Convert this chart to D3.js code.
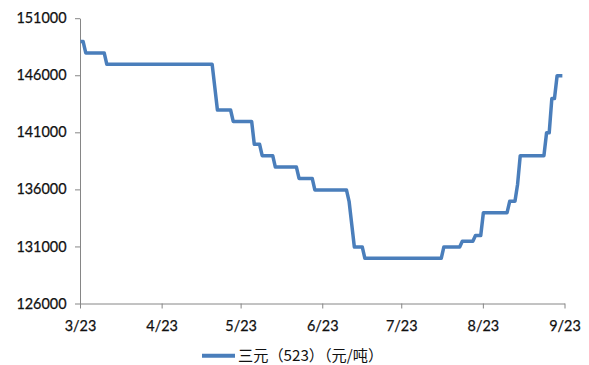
<!DOCTYPE html>
<html>
<head>
<meta charset="utf-8">
<script src="https://cdn.jsdelivr.net/npm/d3@7"></script>
<style>
  html, body { margin: 0; padding: 0; background: #ffffff; }
  svg { display: block; }
</style>
</head>
<body>
<svg id="chart" width="589" height="365"></svg>
<script>
// Price of NCM 523 ternary material, yuan per tonne (daily quotes at each price change)
const dates = [
  "03-23", "03-24", "03-25", "04-01", "04-02", "05-12", "05-13", "05-14",
  "05-19", "05-20", "05-27", "05-28", "05-30", "05-31", "06-04", "06-05",
  "06-13", "06-14", "06-19", "06-20", "07-02", "07-03", "07-04", "07-05",
  "07-08", "07-09", "08-07", "08-08", "08-14", "08-15", "08-19", "08-20",
  "08-22", "08-23", "09-01", "09-02", "09-04", "09-05", "09-06", "09-15",
  "09-16", "09-17", "09-18", "09-19", "09-20", "09-22"
];
const prices = [
  149000, 149000, 148000, 148000, 147000, 147000, 145000, 143000,
  143000, 142000, 142000, 140000, 140000, 139000, 139000, 138000,
  138000, 137000, 137000, 136000, 136000, 135000, 133000, 131000,
  131000, 130000, 130000, 131000, 131000, 131500, 131500, 132000,
  132000, 134000, 134000, 135000, 135000, 136500, 139000, 139000,
  141000, 141000, 144000, 144000, 146000, 146000
];
const seriesName = "三元（523）（元/吨）";
const yTicks = [126000, 131000, 136000, 141000, 146000, 151000];
const xTickDates = ["03-23", "04-23", "05-23", "06-23", "07-23", "08-23", "09-23"];
const xTickLabels = ["3/23", "4/23", "5/23", "6/23", "7/23", "8/23", "9/23"];

const year = 2021;
const parse = s => new Date(year, +s.slice(0, 2) - 1, +s.slice(3, 5));
const data = dates.map((d, i) => ({ date: parse(d), value: prices[i] }));

const svg = d3.select("#chart");
const axisColor = "#868686";
const textColor = "#111111";
const lineColor = "#4a7ebb";
const tickFont = "Lato, 'Liberation Sans', sans-serif";

const x = d3.scaleTime()
  .domain([parse(xTickDates[0]), parse(xTickDates[xTickDates.length - 1])])
  .range([80, 564.5]);
const y = d3.scaleLinear()
  .domain([126000, 151000])
  .range([303.5, 18.2]);

// y axis
const yAxis = svg.append("g")
  .attr("transform", "translate(80,0)")
  .call(d3.axisLeft(y)
    .tickValues(yTicks)
    .tickFormat(d3.format("d"))
    .tickSize(5)
    .tickSizeOuter(0)
    .tickPadding(8.5));

// x axis
const xAxis = svg.append("g")
  .attr("transform", "translate(0,303.5)")
  .call(d3.axisBottom(x)
    .tickValues(xTickDates.map(parse))
    .tickFormat((d, i) => xTickLabels[i])
    .tickSize(5)
    .tickSizeOuter(0)
    .tickPadding(12.5));

[yAxis, xAxis].forEach(g => {
  g.selectAll("path.domain, line").attr("stroke", axisColor).attr("stroke-width", 1);
  g.selectAll("text")
    .attr("fill", textColor)
    .attr("stroke", textColor)
    .attr("stroke-width", 0.25)
    .style("font-family", tickFont)
    .style("font-size", "14.4px");
});

// price line
const line = d3.line()
  .x(d => x(d.date) + 0.5)
  .y(d => y(d.value) + 0.5);

svg.append("path")
  .datum(data)
  .attr("d", line)
  .attr("fill", "none")
  .attr("stroke", lineColor)
  .attr("stroke-width", 3.5)
  .attr("stroke-linejoin", "round")
  .attr("stroke-linecap", "butt");

// legend
const legend = svg.append("g").attr("transform", "translate(0,355.7)");
legend.append("line")
  .attr("x1", 202).attr("x2", 235)
  .attr("y1", 0).attr("y2", 0)
  .attr("stroke", lineColor)
  .attr("stroke-width", 4);
legend.append("text")
  .attr("x", 238)
  .attr("y", 0)
  .attr("dy", "0.36em")
  .attr("fill", textColor)
  .style("font-family", "'Noto Sans CJK SC', sans-serif")
  .style("font-size", "15.2px")
  .text(seriesName);
</script>
</body>
</html>
